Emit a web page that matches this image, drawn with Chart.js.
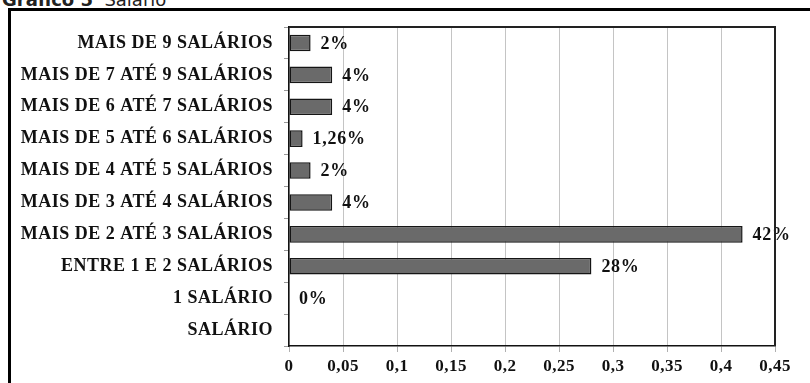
<!DOCTYPE html>
<html lang="pt">
<head>
<meta charset="utf-8">
<title>Gráfico 5 - Salário</title>
<script src="https://cdn.jsdelivr.net/npm/chart.js@4/dist/chart.umd.min.js"></script>
<style>
  html, body { margin: 0; padding: 0; background: #fff; overflow: hidden; }
  #stage { position: relative; width: 810px; height: 383px; overflow: hidden; }
  #caption {
    position: absolute; left: 2px; top: -9px; line-height: 18px;
    font-family: "DejaVu Sans", Verdana, sans-serif; font-size: 18px; color: #222;
    white-space: pre;
  }
  #caption b { font-weight: bold; }
  #frame {
    position: absolute; left: 8px; top: 8px; width: 900px; height: 500px;
    border: 3px solid #000; pointer-events: none;
  }
  canvas { position: absolute; left: 0; top: 0; }
</style>
</head>
<body>
<div id="stage">
  <div id="caption"><b>Gráfico 5</b>  Salário</div>
  <div id="frame"></div>
  <canvas id="chart" width="810" height="383"></canvas>
</div>
<script>
// Salary bands, top to bottom
const categories = [
  'MAIS DE 9 SALÁRIOS',
  'MAIS DE 7 ATÉ 9 SALÁRIOS',
  'MAIS DE 6 ATÉ 7 SALÁRIOS',
  'MAIS DE 5 ATÉ 6 SALÁRIOS',
  'MAIS DE 4 ATÉ 5 SALÁRIOS',
  'MAIS DE 3 ATÉ 4 SALÁRIOS',
  'MAIS DE 2 ATÉ 3 SALÁRIOS',
  'ENTRE 1 E 2 SALÁRIOS',
  '1 SALÁRIO',
  'SALÁRIO'
];

// Share of respondents in each band (null = no answer shown)
const shares = [0.02, 0.04, 0.04, 0.0126, 0.02, 0.04, 0.42, 0.28, 0, null];

// Horizontal axis
const axisMax = 0.45;
const axisStep = 0.05;
const tickLabels = ['0', '0,05', '0,1', '0,15', '0,2', '0,25', '0,3', '0,35', '0,4', '0,45'];

const serif = '"Liberation Serif", "Times New Roman", serif';

function pctText(v) {
  const n = parseFloat((v * 100).toFixed(2));
  return String(n).replace('.', ',') + '%';
}

// Slightly open letter spacing for all axis text
const wideText = {
  id: 'wideText',
  beforeDraw(chart) {
    if ('letterSpacing' in chart.ctx) chart.ctx.letterSpacing = '0.5px';
  }
};

// Value labels to the right of each bar
const valueLabels = {
  id: 'valueLabels',
  afterDatasetsDraw(chart) {
    const ctx = chart.ctx;
    const meta = chart.getDatasetMeta(0);
    ctx.save();
    if ('letterSpacing' in ctx) ctx.letterSpacing = '0.7px';
    ctx.font = 'bold 18px ' + serif;
    ctx.fillStyle = '#111';
    ctx.textAlign = 'left';
    ctx.textBaseline = 'middle';
    meta.data.forEach((bar, i) => {
      const v = shares[i];
      if (v === null || v === undefined) return;
      ctx.fillText(pctText(v), bar.x + 10, bar.y + 1);
    });
    ctx.restore();
  }
};

// Dark outline around the plotting area
const plotFrame = {
  id: 'plotFrame',
  afterDraw(chart) {
    const a = chart.chartArea;
    const ctx = chart.ctx;
    ctx.save();
    ctx.strokeStyle = '#222';
    ctx.lineWidth = 2;
    ctx.beginPath();
    ctx.moveTo(a.left, a.top);
    ctx.lineTo(a.right, a.top);
    ctx.lineTo(a.right, a.bottom);
    ctx.stroke();
    ctx.restore();
  }
};

new Chart(document.getElementById('chart'), {
  type: 'bar',
  data: {
    labels: categories,
    datasets: [{
      data: shares,
      backgroundColor: '#6a6a6a',
      borderColor: '#151515',
      borderWidth: 1.5,
      borderSkipped: false,
      barPercentage: 0.52,
      categoryPercentage: 1.0
    }]
  },
  options: {
    indexAxis: 'y',
    responsive: false,
    animation: false,
    layout: { padding: { left: 0, top: 27, right: 35, bottom: 0 } },
    plugins: {
      legend: { display: false },
      tooltip: { enabled: false }
    },
    scales: {
      x: {
        min: 0,
        max: axisMax,
        ticks: {
          stepSize: axisStep,
          padding: 4,
          color: '#111',
          font: { family: serif, size: 17, weight: 'bold' },
          maxRotation: 0,
          callback: (value, index) => tickLabels[index]
        },
        grid: { color: '#c4c4c4', lineWidth: 1, tickLength: 6, tickColor: '#b0b0b0' },
        border: { color: '#111', width: 1.5 },
        afterFit(scale) { scale.height = 37; }
      },
      y: {
        ticks: {
          padding: 11,
          color: '#111',
          font: { family: serif, size: 18, weight: 'bold' }
        },
        grid: { drawOnChartArea: false, tickLength: 5, color: '#999' },
        border: { color: '#111', width: 1.5 },
        afterFit(scale) { scale.width = 289; }
      }
    }
  },
  plugins: [wideText, valueLabels, plotFrame]
});
</script>
</body>
</html>
